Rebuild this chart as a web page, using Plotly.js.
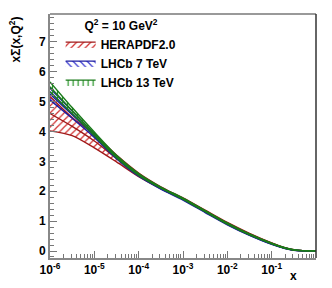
<!DOCTYPE html>
<html><head><meta charset="utf-8">
<script src="https://cdn.plot.ly/plotly-3.0.1.min.js"></script>
<style>html,body{margin:0;padding:0;background:#fff}#chart{width:332px;height:288px}</style>
</head><body><div id="chart"></div>
<script>
// x grid
var xVals = [1e-6, 3.16e-6, 1e-5, 3.16e-5, 1e-4, 3.16e-4, 1e-3, 3.16e-3, 1e-2, 3.16e-2, 1e-1, 0.2, 0.32, 0.5, 1.0];
// HERAPDF2.0
var heraCentral = [4.60, 4.17, 3.68, 3.10, 2.55, 2.12, 1.755, 1.345, 0.935, 0.57, 0.26, 0.10, 0.035, 0.012, 0.005];
var heraLow     = [4.02, 3.86, 3.45, 2.98, 2.49, 2.09, 1.735, 1.325, 0.915, 0.55, 0.25, 0.09, 0.030, 0.010, 0.003];
var heraHigh    = [5.17, 4.47, 3.90, 3.21, 2.61, 2.15, 1.775, 1.365, 0.955, 0.59, 0.27, 0.11, 0.040, 0.014, 0.007];
// LHCb 7 TeV
var lhcb7Central = [5.25, 4.56, 3.86, 3.12, 2.53, 2.09, 1.725, 1.305, 0.895, 0.535, 0.23, 0.09, 0.030, 0.010, 0.004];
var lhcb7Low     = [5.05, 4.44, 3.80, 3.09, 2.50, 2.07, 1.705, 1.285, 0.875, 0.52, 0.22, 0.08, 0.025, 0.008, 0.003];
var lhcb7High    = [5.45, 4.68, 3.92, 3.15, 2.56, 2.11, 1.745, 1.325, 0.915, 0.55, 0.24, 0.10, 0.035, 0.012, 0.005];
// LHCb 13 TeV
var lhcb13Central = [5.50, 4.70, 3.92, 3.16, 2.56, 2.12, 1.75, 1.335, 0.92, 0.555, 0.25, 0.10, 0.035, 0.012, 0.005];
var lhcb13Low     = [5.33, 4.60, 3.86, 3.12, 2.53, 2.10, 1.73, 1.315, 0.90, 0.54, 0.24, 0.09, 0.030, 0.010, 0.003];
var lhcb13High    = [5.66, 4.80, 3.98, 3.20, 2.59, 2.14, 1.77, 1.355, 0.94, 0.57, 0.26, 0.11, 0.040, 0.014, 0.007];

var xTickVals = [1e-6, 1e-5, 1e-4, 1e-3, 1e-2, 1e-1];
var xTickText = ['10<sup>-6</sup>', '10<sup>-5</sup>', '10<sup>-4</sup>', '10<sup>-3</sup>', '10<sup>-2</sup>', '10<sup>-1</sup>'];
var seriesNames = ['HERAPDF2.0', 'LHCb 7 TeV', 'LHCb 13 TeV'];

var styles = [
  {line: '#a01818', hatch: '#d03030', shape: '/'},
  {line: '#1c1ca0', hatch: '#3a3ad0', shape: '\\'},
  {line: '#1a7a1a', hatch: '#2a962a', shape: '|'}
];
var bands = [
  [heraLow, heraHigh, heraCentral],
  [lhcb7Low, lhcb7High, lhcb7Central],
  [lhcb13Low, lhcb13High, lhcb13Central]
];

var traces = [];
bands.forEach(function (b, i) {
  var s = styles[i];
  traces.push({x: xVals, y: b[0], mode: 'lines', line: {color: s.line, width: 1.4, shape: 'spline', smoothing: 0.8},
    showlegend: false, hoverinfo: 'skip', legendgroup: 'g' + i});
  traces.push({x: xVals, y: b[1], mode: 'lines', line: {color: s.line, width: 1.4, shape: 'spline', smoothing: 0.8},
    fill: 'tonexty', fillcolor: 'rgba(0,0,0,0)',
    fillpattern: {shape: s.shape, fgcolor: s.hatch, bgcolor: 'rgba(255,255,255,0)', size: 5, solidity: 0.25},
    name: seriesNames[i], showlegend: true, legendgroup: 'g' + i});
  traces.push({x: xVals, y: b[2], mode: 'lines', line: {color: s.line, width: 1.4, shape: 'spline', smoothing: 0.8},
    showlegend: false, hoverinfo: 'skip', legendgroup: 'g' + i});
});

var font = {family: 'Liberation Sans, Arial, sans-serif', color: '#000', size: 12};
var layout = {
  width: 332, height: 288,
  margin: {l: 50, r: 16, t: 14, b: 30},
  paper_bgcolor: '#fff', plot_bgcolor: '#fff',
  font: font,
  showlegend: true,
  legend: {
    x: 0.04, y: 1.0, xanchor: 'left', yanchor: 'top',
    bgcolor: 'rgba(0,0,0,0)', borderwidth: 0,
    font: {family: font.family, size: 12, color: '#000', weight: 'bold'},
    title: {text: 'Q<sup>2</sup> = 10 GeV<sup>2</sup>', side: 'top center',
      font: {family: font.family, size: 12, color: '#000', weight: 'bold'}},
    itemwidth: 30, tracegroupgap: 0
  },
  xaxis: {
    type: 'log', range: [-6, 0],
    tickvals: xTickVals, ticktext: xTickText,
    ticks: 'inside', ticklen: 7, tickcolor: '#777', tickwidth: 1,
    showline: true, linecolor: '#888', linewidth: 2, mirror: false,
    showgrid: false, zeroline: false,
    tickfont: {family: font.family, size: 12, color: '#000', weight: 'bold'},
    minor: {ticks: 'inside', ticklen: 4, tickcolor: '#777', dtick: 'D1', showgrid: false}
  },
  yaxis: {
    range: [-0.234, 7.93],
    tickvals: [0, 1, 2, 3, 4, 5, 6, 7],
    ticks: 'inside', ticklen: 7, tickcolor: '#777', tickwidth: 1,
    showline: true, linecolor: '#888', linewidth: 2,
    showgrid: false, zeroline: false,
    tickfont: {family: font.family, size: 12, color: '#000', weight: 'bold'},
    minor: {ticks: 'inside', ticklen: 4, tickcolor: '#777', dtick: 0.2, showgrid: false}
  },
  shapes: [
    {type: 'line', xref: 'paper', yref: 'paper', x0: 0, x1: 1, y0: 1, y1: 1, line: {color: '#999', width: 2}},
    {type: 'line', xref: 'paper', yref: 'paper', x0: 1, x1: 1, y0: 0, y1: 1, line: {color: '#333', width: 1.5}}
  ],
  annotations: [
    {text: 'x\u03A3(x,Q<sup>2</sup>)', xref: 'paper', yref: 'paper', x: -0.13, y: 1.0,
      xanchor: 'center', yanchor: 'top', textangle: -90, showarrow: false,
      font: {family: font.family, size: 12, color: '#000', weight: 'bold'}},
    {text: 'x', xref: 'paper', yref: 'paper', x: 0.915, y: -0.035,
      xanchor: 'center', yanchor: 'top', showarrow: false,
      font: {family: font.family, size: 12, color: '#000', weight: 'bold'}}
  ]
};
Plotly.newPlot('chart', traces, layout, {displayModeBar: false, staticPlot: true});
</script></body></html>
